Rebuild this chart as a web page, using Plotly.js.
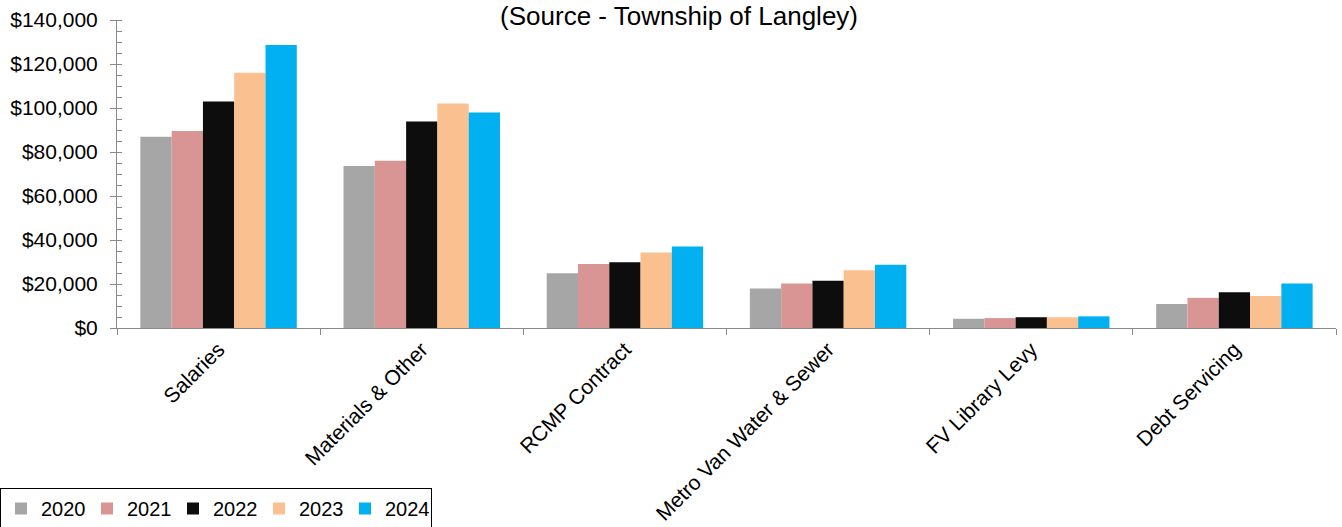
<!DOCTYPE html>
<html>
<head>
<meta charset="utf-8">
<script src="https://cdn.plot.ly/plotly-3.0.1.min.js"></script>
<style>
  html, body { margin: 0; padding: 0; background: #ffffff; }
  #chart { width: 1342px; height: 527px; }
</style>
</head>
<body>
<div id="chart"></div>
<script>
// Operating expenditure by category, in thousands of dollars
const categories = ["Salaries", "Materials & Other", "RCMP Contract", "Metro Van Water & Sewer", "FV Library Levy", "Debt Servicing"];
const years = ["2020", "2021", "2022", "2023", "2024"];
const values2020 = [86900, 73600, 24900, 18000, 4200, 10900];
const values2021 = [89600, 76000, 29100, 20200, 4500, 13700];
const values2022 = [103000, 93900, 29900, 21500, 4900, 16200];
const values2023 = [116000, 102100, 34300, 26200, 4900, 14600];
const values2024 = [128600, 98000, 37000, 28700, 5300, 20200];
const yTickVals = [0, 20000, 40000, 60000, 80000, 100000, 120000, 140000];

const seriesValues = [values2020, values2021, values2022, values2023, values2024];
const seriesColors = ["#A6A6A6", "#D99594", "#0D0D0D", "#FAC090", "#00B0F0"];

const traces = years.map((yr, i) => ({
  type: "bar",
  name: yr,
  x: categories,
  y: seriesValues[i],
  marker: { color: seriesColors[i], line: { width: 0 } },
  hoverinfo: "x+y+name"
}));

const fam = "Liberation Sans, Arial, sans-serif";

const layout = {
  width: 1342,
  height: 527,
  paper_bgcolor: "#ffffff",
  plot_bgcolor: "#ffffff",
  font: { family: fam, color: "#000000", size: 21 },
  margin: { l: 117, r: 6, t: 20, b: 199, pad: 0 },
  barmode: "group",
  bargap: 0.23,
  bargroupgap: 0,
  title: {
    text: "(Source - Township of Langley)",
    font: { family: fam, size: 26, color: "#000000" },
    x: 0.506, xanchor: "center", xref: "container",
    y: 0.97, yanchor: "middle", yref: "container"
  },
  showlegend: true,
  legend: {
    orientation: "h",
    xref: "container", yref: "container",
    x: -0.002, xanchor: "left",
    y: 0.074, yanchor: "top",
    bordercolor: "#000000",
    borderwidth: 1,
    bgcolor: "#ffffff",
    font: { family: fam, size: 20, color: "#000000" },
    itemwidth: 30,
    entrywidth: 41,
    tracegroupgap: 0
  },
  xaxis: {
    type: "category",
    showgrid: false,
    zeroline: false,
    showline: true,
    linecolor: "#898989",
    linewidth: 1,
    ticks: "outside",
    tickson: "boundaries",
    ticklen: 6,
    tickcolor: "#898989",
    tickangle: -45,
    tickfont: { family: fam, size: 21, color: "#000000" },
    automargin: false
  },
  yaxis: {
    range: [0, 140000],
    tickvals: yTickVals,
    tickformat: "$,d",
    showgrid: false,
    zeroline: false,
    showline: true,
    linecolor: "#898989",
    linewidth: 1,
    ticks: "outside",
    ticklen: 6,
    tickcolor: "#898989",
    ticklabelstandoff: 8,
    minor: { dtick: 5000, ticks: "inside", ticklen: 5, tickcolor: "#898989", showgrid: false },
    tickfont: { family: fam, size: 21, color: "#000000" },
    automargin: false
  }
};

Plotly.newPlot("chart", traces, layout, { displayModeBar: false, staticPlot: true });
</script>
</body>
</html>
